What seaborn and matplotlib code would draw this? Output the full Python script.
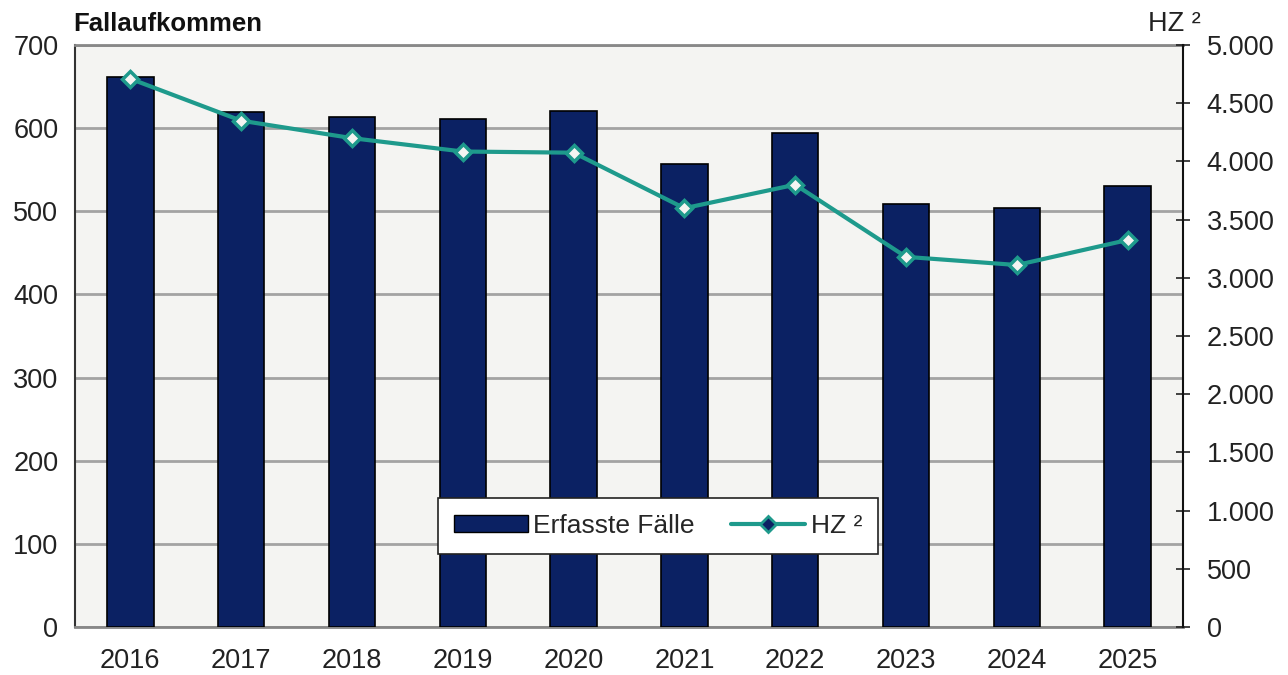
import numpy as np
import pandas as pd
import matplotlib
matplotlib.use('Agg')
import matplotlib.pyplot as plt
import seaborn as sns
from matplotlib.ticker import FuncFormatter
from matplotlib.lines import Line2D
from matplotlib.patches import Patch

years = ['2016', '2017', '2018', '2019', '2020', '2021', '2022', '2023', '2024', '2025']
faelle = [661, 619, 614, 611, 621, 557, 594, 509, 504, 531]
hz = [4710, 4350, 4200, 4085, 4075, 3598, 3800, 3180, 3110, 3325]

bar_color = '#0b2163'
line_color = '#1e9a8c'
bg_color = '#f4f4f2'

sns.set_theme(style='white')
plt.rcParams['font.family'] = ['Liberation Sans', 'DejaVu Sans']

df = pd.DataFrame({'Jahr': years, 'Faelle': faelle, 'HZ': hz})

fig = plt.figure(figsize=(12.88, 6.75), dpi=100)
ax = fig.add_axes([0.0582, 0.0711, 0.8603, 0.8622])
ax.set_facecolor(bg_color)

sns.barplot(data=df, x='Jahr', y='Faelle', color=bar_color, width=0.42,
            edgecolor='black', linewidth=1.2, saturation=1, ax=ax, zorder=3)

ax.set_ylim(0, 700)
ax.set_yticks(range(0, 701, 100))
ax.yaxis.grid(True, color='#a3a3a3', linewidth=2, zorder=0)
ax.set_axisbelow(True)
ax.set_xlim(-0.5, len(years) - 0.5)
ax.set_xlabel('')
ax.set_ylabel('')

ax.tick_params(axis='y', length=0, labelsize=19.5, pad=12, colors='#222222')
ax.tick_params(axis='x', which='major', length=0, labelsize=19.5, pad=15, colors='#222222')
ax.set_xticks(np.arange(len(years)) - 0.5, minor=True)
ax.tick_params(axis='x', which='minor', length=8, width=1.2, direction='inout', color='#555555')

for side in ['top', 'bottom']:
    ax.spines[side].set_color('#888888')
    ax.spines[side].set_linewidth(2)
ax.spines['left'].set_color('#333333')
ax.spines['left'].set_linewidth(1.5)
ax.spines['right'].set_visible(False)

ax2 = ax.twinx()
sns.pointplot(data=df, x='Jahr', y='HZ', color=line_color, markers='D',
              linestyles='-', ax=ax2, linewidth=3, markersize=8,
              markerfacecolor=bg_color, markeredgewidth=2.5)
ax2.set_ylim(0, 5000)
ax2.set_yticks(range(0, 5001, 500))
ax2.yaxis.set_major_formatter(FuncFormatter(lambda v, p: f'{int(v):,}'.replace(',', '.')))
ax2.tick_params(axis='y', length=10, width=1.2, direction='inout', labelsize=19.5, pad=12, colors='#222222')
ax2.set_ylabel('')
ax2.set_xlabel('')
for side in ['top', 'bottom', 'left']:
    ax2.spines[side].set_visible(False)
ax2.spines['right'].set_color('#111111')
ax2.spines['right'].set_linewidth(1.5)

fig.text(0.0567, 0.965, 'Fallaufkommen', fontsize=18.5, fontweight='bold', ha='left', va='center', color='#111111')
fig.text(0.9325, 0.965, 'HZ ²', fontsize=19.5, ha='right', va='center', color='#222222')

handles = [Patch(facecolor=bar_color, edgecolor='black', label='Erfasste Fälle'),
           Line2D([0], [0], color=line_color, linewidth=3, marker='D', markersize=8,
                  markerfacecolor=bar_color, markeredgecolor=line_color, markeredgewidth=2,
                  label='HZ ²')]
leg = ax2.legend(handles=handles, loc='center', bbox_to_anchor=(0.526, 0.174), ncol=2,
                 fontsize=19, frameon=True, fancybox=False, facecolor='white',
                 edgecolor='#222222', framealpha=1, handlelength=2.8, handleheight=0.6,
                 handletextpad=0.2, columnspacing=1.4, borderpad=0.6)
leg.get_frame().set_linewidth(1.2)

fig.savefig('out.png', dpi=100, facecolor='white')
